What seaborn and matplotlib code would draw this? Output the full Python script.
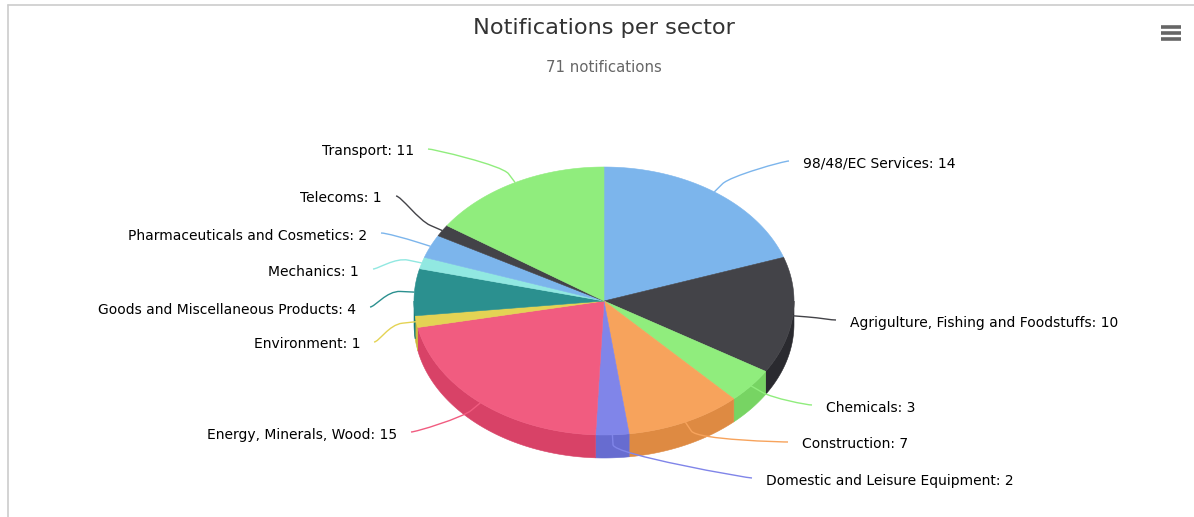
import numpy as np
import matplotlib
matplotlib.use("Agg")
import matplotlib.pyplot as plt
import seaborn as sns
from matplotlib.patches import Polygon, PathPatch
from matplotlib.path import Path

# ---------------- data ----------------
sectors = [
    "98/48/EC Services",
    "Agrigulture, Fishing and Foodstuffs",
    "Chemicals",
    "Construction",
    "Domestic and Leisure Equipment",
    "Energy, Minerals, Wood",
    "Environment",
    "Goods and Miscellaneous Products",
    "Mechanics",
    "Pharmaceuticals and Cosmetics",
    "Telecoms",
    "Transport",
]
counts = [14, 10, 3, 7, 2, 15, 1, 4, 1, 2, 1, 11]
colors = ["#7cb5ec", "#434348", "#90ed7d", "#f7a35c", "#8085e9", "#f15c80",
          "#e4d354", "#2b908f", "#91e8e1", "#7cb5ec", "#434348", "#90ed7d"]
title = "Notifications per sector"
subtitle = f"{sum(counts)} notifications"

# ---------------- layout (pixels) ----------------
W, H = 1194, 517
CX, CY = 604, 301      # pie centre
RX, RY = 190, 134      # projected radii
DEPTH = 23             # 3d thickness
BREAK = 14             # connector break distance
# connector end points next to each label and side of label
label_anchor = [
    (789, 161, "L"), (836, 320, "L"), (812, 405, "L"), (788, 442, "L"),
    (752, 478, "L"), (411, 432, "R"), (374, 342, "R"), (370, 307, "R"),
    (373, 269, "R"), (381, 233, "R"), (396, 196, "R"), (428, 149, "R"),
]

sns.set_theme(style="white")
plt.rcParams["font.family"] = ["DejaVu Sans"]

fig = plt.figure(figsize=(W / 100, H / 100), dpi=100)
ax = fig.add_axes([0, 0, 1, 1])
ax.set_xlim(0, W)
ax.set_ylim(H, 0)
ax.axis("off")


def darken(c, amt=0.1):
    r, g, b = matplotlib.colors.to_rgb(c)
    return (max(r - amt, 0), max(g - amt, 0), max(b - amt, 0))


def pt(theta_deg, rx=RX, ry=RY, dy=0.0):
    t = np.radians(theta_deg)
    return CX + rx * np.sin(t), CY - ry * np.cos(t) + dy


total = sum(counts)
edges = np.concatenate([[0], np.cumsum(counts)]) / total * 360.0

# side walls (front half of the cylinder)
for i, c in enumerate(colors):
    a1, a2 = edges[i], edges[i + 1]
    lo, hi = max(a1, 90), min(a2, 270)
    if lo < hi:
        th = np.linspace(lo, hi, 60)
        top = [pt(t) for t in th]
        bot = [pt(t, dy=DEPTH) for t in th[::-1]]
        ax.add_patch(Polygon(top + bot, closed=True, facecolor=darken(c),
                             edgecolor=darken(c), lw=0.4, zorder=2))

# top faces
for i, c in enumerate(colors):
    a1, a2 = edges[i], edges[i + 1]
    th = np.linspace(a1, a2, max(int((a2 - a1) * 2), 4))
    poly = [(CX, CY)] + [pt(t) for t in th]
    ax.add_patch(Polygon(poly, closed=True, facecolor=c, edgecolor=c,
                         lw=0.4, zorder=3))

# connectors and labels
for i, (name, val, c) in enumerate(zip(sectors, counts, colors)):
    mid = (edges[i] + edges[i + 1]) / 2
    ex, ey = pt(mid)
    bx, by = pt(mid, rx=RX + BREAK, ry=RY * (RX + BREAK) / RX)
    lx, ly, side = label_anchor[i]
    s = -5 if side == "L" else 5
    verts = [(lx, ly), (lx + s, ly), (2 * bx - ex, 2 * by - ey), (bx, by), (ex, ey)]
    codes = [Path.MOVETO, Path.CURVE4, Path.CURVE4, Path.CURVE4, Path.LINETO]
    ax.add_patch(PathPatch(Path(verts, codes), facecolor="none", edgecolor=c,
                           lw=1.0, zorder=4))
    if side == "L":
        ax.text(lx + 14, ly + 2.5, f"{name}: {val}", ha="left", va="center",
                fontsize=10.0, color="#000000", zorder=5)
    else:
        ax.text(lx - 14, ly + 2.5, f"{name}: {val}", ha="right", va="center",
                fontsize=10.0, color="#000000", zorder=5)

# titles
ax.text(604, 28, title, ha="center", va="center", fontsize=16.2, color="#333333")
ax.text(604, 68, subtitle, ha="center", va="center", fontsize=10.7, color="#666666")

# menu icon
for yy in (27, 33, 39):
    ax.plot([1161, 1181], [yy, yy], color="#666666", lw=2.6,
            solid_capstyle="butt", zorder=5)

# chart border
ax.plot([7.5, 7.5], [H, 4.5], color="#cccccc", lw=1.2)
ax.plot([7.5, W], [4.5, 4.5], color="#cccccc", lw=1.2)

fig.savefig("out.png", dpi=100)
